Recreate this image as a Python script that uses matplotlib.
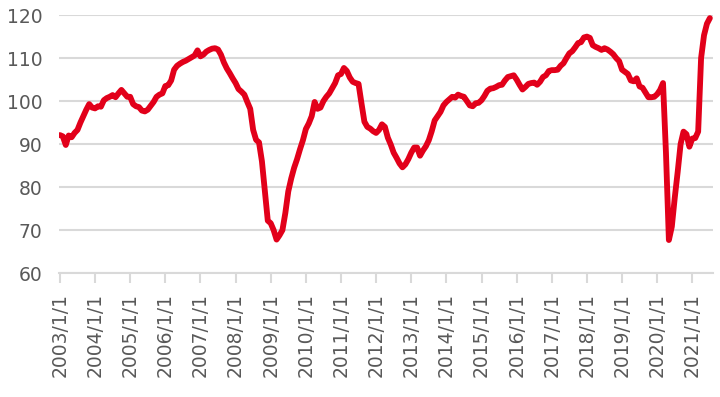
import matplotlib

matplotlib.use("Agg")
import matplotlib.pyplot as plt
import numpy as np

# monthly index, 2003/1 .. 2021/7
y2003 = [92.1, 91.8, 89.8, 92.0, 91.6, 92.6, 93.3, 95.0, 96.5, 98.0, 99.3, 98.5]
y2004 = [98.3, 98.8, 98.7, 100.2, 100.7, 101.0, 101.4, 100.9, 101.8, 102.6, 101.8, 101.0]
y2005 = [101.0, 99.3, 98.8, 98.6, 97.8, 97.6, 98.0, 98.9, 99.8, 101.0, 101.5, 101.8]
y2006 = [103.5, 103.7, 104.8, 107.3, 108.2, 108.7, 109.1, 109.4, 109.8, 110.2, 110.6, 111.8]
y2007 = [110.4, 110.8, 111.5, 111.9, 112.2, 112.3, 112.0, 110.8, 109.0, 107.6, 106.5, 105.3]
y2008 = [104.2, 102.8, 102.2, 101.5, 99.8, 98.2, 93.3, 91.0, 90.4, 86.0, 79.0, 72.2]
y2009 = [71.6, 70.0, 67.8, 68.8, 70.0, 74.0, 79.0, 82.0, 84.5, 86.5, 88.8, 90.9]
y2010 = [93.5, 94.8, 96.5, 99.8, 98.2, 98.5, 100.0, 101.0, 101.8, 103.0, 104.2, 106.0]
y2011 = [106.3, 107.7, 107.0, 105.5, 104.5, 104.2, 104.0, 99.5, 95.2, 94.0, 93.6, 93.0]
y2012 = [92.6, 93.3, 94.6, 94.0, 91.5, 89.9, 88.0, 86.8, 85.5, 84.6, 85.3, 86.5]
y2013 = [88.0, 89.2, 89.2, 87.3, 88.5, 89.5, 90.9, 93.0, 95.5, 96.5, 97.5, 99.0]
y2014 = [99.8, 100.4, 101.0, 100.8, 101.5, 101.2, 101.0, 100.0, 99.0, 98.8, 99.5, 99.6]
y2015 = [100.2, 101.2, 102.4, 102.9, 103.0, 103.3, 103.7, 103.8, 104.8, 105.6, 105.8, 106.0]
y2016 = [105.0, 103.8, 102.7, 103.3, 104.0, 104.2, 104.3, 103.8, 104.5, 105.6, 106.0, 107.0]
y2017 = [107.2, 107.2, 107.3, 108.2, 108.8, 110.0, 111.1, 111.6, 112.5, 113.5, 113.7, 114.8]
y2018 = [115.0, 114.7, 113.0, 112.6, 112.3, 111.9, 112.3, 112.0, 111.5, 110.9, 110.0, 109.3]
y2019 = [107.3, 106.8, 106.3, 104.8, 104.6, 105.3, 103.4, 103.1, 102.0, 100.9, 100.9, 101.0]
y2020 = [101.6, 102.6, 104.2, 88.0, 67.7, 70.8, 77.5, 83.5, 90.0, 92.9, 92.3, 89.4]
y2021 = [91.3, 91.4, 92.9, 110.0, 115.3, 118.0, 119.3]

years = list(range(2003, 2022))
tick_labels = [f"{y}/1/1" for y in years]

values = (y2003 + y2004 + y2005 + y2006 + y2007 + y2008 + y2009 + y2010 + y2011
          + y2012 + y2013 + y2014 + y2015 + y2016 + y2017 + y2018 + y2019 + y2020
          + y2021)

RED = "#e2001a"
GRID = "#d9d9d9"
TXT = "#595959"


def main():
    fig = plt.figure(figsize=(7.2, 3.97), dpi=100)
    ax = fig.add_axes([0.082, 0.312, 0.908, 0.650])

    x = np.arange(len(values))
    ax.plot(x, values, color=RED, lw=4.2, solid_joinstyle="round",
            solid_capstyle="round", zorder=3)

    ax.set_ylim(60, 120)
    ax.set_yticks(range(60, 121, 10))
    ax.set_xlim(-0.3, 223)
    ax.set_xticks(np.arange(len(years)) * 12)
    ax.set_xticklabels(tick_labels, rotation=90)

    ax.grid(axis="y", color=GRID, lw=1.5, zorder=0)
    for side in ("top", "right", "left"):
        ax.spines[side].set_visible(False)
    ax.spines["bottom"].set_color(GRID)
    ax.spines["bottom"].set_linewidth(1.5)

    ax.tick_params(axis="y", length=0, pad=12, labelsize=13.5, labelcolor=TXT)
    ax.tick_params(axis="x", length=7, width=1.5, color=GRID, pad=7,
                   labelsize=13.5, labelcolor=TXT)

    fig.savefig("out.png", dpi=100)


if __name__ == "__main__":
    main()
